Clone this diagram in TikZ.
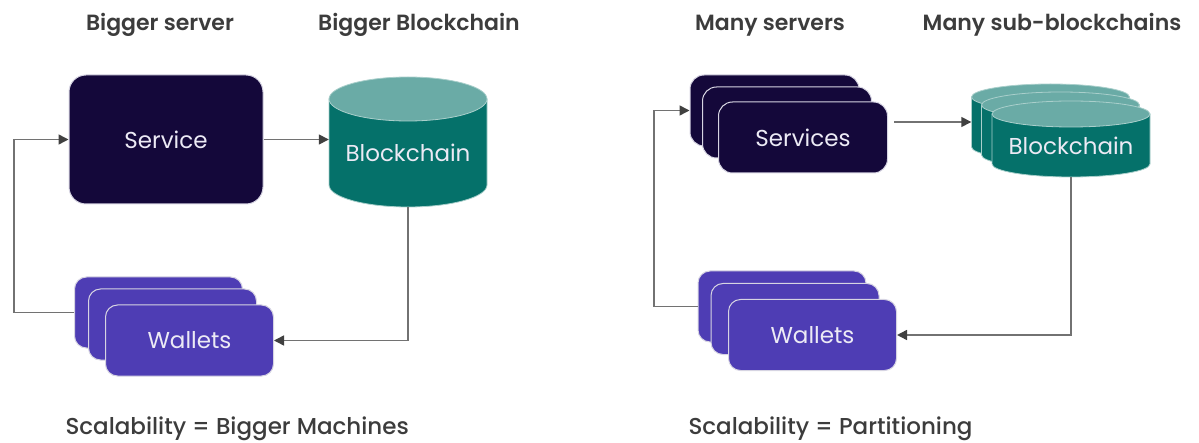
\documentclass[tikz,border=0pt]{standalone}
\usepackage{fontspec}
\setmainfont{Poppins}[BoldFont={Poppins SemiBold}]
\newfontfamily\midweight{Poppins Medium}
\usetikzlibrary{arrows.meta}

\definecolor{svcfill}{HTML}{14083A}
\definecolor{walfill}{HTML}{4E3DB4}
\definecolor{bcbody}{HTML}{05716A}
\definecolor{bctop}{HTML}{6AABA6}
\definecolor{bcedge}{HTML}{A9CFCB}
\definecolor{boxedge}{HTML}{D6D4E2}
\definecolor{linkgray}{HTML}{727272}
\definecolor{tipgray}{HTML}{404040}
\definecolor{headtext}{HTML}{3C3C3C}
\definecolor{boxtext}{HTML}{ECEAF5}

% cylinder: #1 centre x, #2 top of lid, #3 half width, #4 total height, #5 lid radius
\newcommand{\drum}[5]{%
  \filldraw[fill=bcbody, draw=bcedge, line width=0.8pt]
    (#1-#3,#2-#5) -- (#1-#3,#2-#4+#5)
    arc[start angle=180, end angle=360, x radius=#3, y radius=#5]
    -- (#1+#3,#2-#5) -- cycle;
  \filldraw[fill=bctop, draw=bcedge, line width=0.8pt]
    (#1,#2-#5) ellipse [x radius=#3, y radius=#5];
}

\tikzset{
  card/.style={rectangle, rounded corners=#1, draw=boxedge, line width=1pt,
    inner sep=0pt},
  svcbox/.style={card=14pt, fill=svcfill, minimum width=169pt, minimum height=71pt},
  walbox/.style={card=12pt, fill=walfill, minimum width=168pt, minimum height=71pt},
  hole/.style={rectangle, inner sep=0pt},
  boxlabel/.style={text=boxtext, font=\fontsize{23}{26}\selectfont},
  heading/.style={text=headtext, font=\bfseries\fontsize{22}{26}\selectfont, anchor=base},
  footer/.style={text=headtext, font=\midweight\fontsize{23}{26}\selectfont, anchor=base west},
  link/.style={draw=linkgray, line width=1.5pt,
    -{Triangle[length=10pt, width=10pt, fill=tipgray, color=tipgray]}},
}

\begin{document}
\begin{tikzpicture}[x=1pt, y=1pt]
\useasboundingbox (0,0) rectangle (1199,442);

% ---------- vertical scaling ----------
\node[heading] (h1) at (160,411) {Bigger server};
\node[heading] (h2) at (419,411) {Bigger Blockchain};

\node[card=17pt, fill=svcfill, minimum width=194pt, minimum height=129pt] (svc) at (166,302.5) {};
\node[boxlabel] at (svc.center) {Service};

\drum{408}{365}{79}{130}{22}
\node[hole, minimum width=158pt, minimum height=130pt] (bc) at (408,300) {};
\node[boxlabel] at (408,289) {Blockchain};

\node[walbox] (wa1) at (158.5,129.5) {};
\node[walbox] (wa2) at (172.5,117.5) {};
\node[walbox] (wa3) at (189.5,101.5) {};
\node[boxlabel] at (wa3.center) {Wallets};

\draw[link] (svc.east) -- (svc.east -| bc.west);
\draw[link] (bc.south) |- (wa3.east);
\coordinate (lbend) at (14,0);
\draw[link] (wa1.west) -- (wa1.west -| lbend) |- (svc.west);

\node[footer] (f1) at (62,8) {Scalability = Bigger Machines};

% ---------- horizontal scaling ----------
\node[heading] (h3) at (770,411) {Many servers};
\node[heading] (h4) at (1052,411) {Many sub-blockchains};

\node[svcbox] (sv1) at (774.5,331.5) {};
\node[svcbox] (sv2) at (787,319.5) {};
\node[svcbox] (sv3) at (803,304.5) {};
\node[boxlabel] at (sv3.center) {Services};

\drum{1050.5}{358}{79}{76}{13}
\drum{1060.5}{350}{79}{76}{13}
\drum{1071}{341}{79}{76}{13}
\node[hole, minimum width=158pt, minimum height=76pt] (bk1) at (1050.5,320) {};
\node[hole, minimum width=158pt, minimum height=76pt] (bk3) at (1071,303) {};
\node[boxlabel] at (1071,296) {Blockchain};

\node[walbox] (wb1) at (782,135.5) {};
\node[walbox] (wb2) at (795,123) {};
\node[walbox] (wb3) at (812.5,107) {};
\node[boxlabel] at (wb3.center) {Wallets};

\coordinate (rstart) at ([xshift=6pt]sv3.east |- bk1.west);
\draw[link] (rstart) -- (bk1.west);
\draw[link] (bk3.south) |- (wb3.east);
\coordinate (rbend) at (654,0);
\draw[link] (wb1.west) -- (wb1.west -| rbend) |- (sv1.west);

\node[footer] (f2) at (685,8) {Scalability = Partitioning};
\end{tikzpicture}
\end{document}
